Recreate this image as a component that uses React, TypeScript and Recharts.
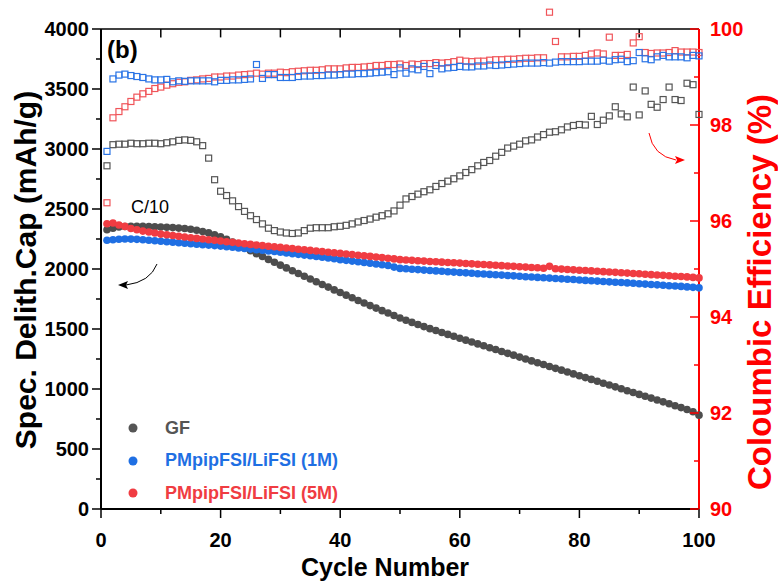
import { ComposedChart, Scatter, XAxis, YAxis, ReferenceLine, Legend } from "recharts";

const cycles = Array.from({ length: 100 }, (_, i) => i + 1);

// specific delithiation capacity (mAh/g)
const capGF = [
  2327, 2340, 2350, 2354, 2356, 2356, 2355, 2354, 2352, 2350,
  2348, 2345, 2341, 2337, 2331, 2323, 2313, 2301, 2286, 2268,
  2247, 2224, 2200, 2176, 2152, 2128, 2104, 2080, 2056, 2032,
  2009, 1986, 1963, 1940, 1917, 1894, 1871, 1849, 1826, 1804,
  1782, 1760, 1738, 1717, 1695, 1674, 1653, 1633, 1612, 1592,
  1573, 1555, 1538, 1520, 1503, 1487, 1471, 1455, 1439, 1423,
  1407, 1392, 1376, 1360, 1344, 1329, 1313, 1297, 1282, 1266,
  1250, 1234, 1219, 1204, 1188, 1172, 1157, 1142, 1126, 1110,
  1095, 1080, 1064, 1048, 1033, 1018, 1002, 986, 971, 955,
  940, 924, 908, 893, 877, 861, 845, 829, 810, 782,
];
const cap1M = [
  2239, 2244, 2248, 2250, 2249, 2247, 2244, 2240, 2236, 2231,
  2227, 2223, 2219, 2215, 2211, 2207, 2203, 2199, 2195, 2191,
  2186, 2181, 2176, 2171, 2166, 2161, 2156, 2151, 2146, 2140,
  2134, 2128, 2122, 2116, 2110, 2104, 2098, 2092, 2085, 2078,
  2072, 2066, 2060, 2054, 2048, 2042, 2036, 2029, 2016, 2005,
  2002, 1998, 1995, 1991, 1988, 1984, 1981, 1977, 1974, 1971,
  1968, 1964, 1961, 1958, 1955, 1952, 1949, 1946, 1943, 1939,
  1936, 1933, 1930, 1927, 1924, 1921, 1918, 1915, 1912, 1908,
  1905, 1902, 1899, 1896, 1893, 1890, 1887, 1884, 1881, 1877,
  1874, 1871, 1868, 1865, 1861, 1858, 1855, 1851, 1847, 1843,
];
const cap5M = [
  2377, 2383, 2367, 2355, 2338, 2327, 2316, 2308, 2300, 2291,
  2285, 2279, 2273, 2267, 2261, 2255, 2250, 2244, 2239, 2233,
  2227, 2222, 2216, 2211, 2205, 2200, 2195, 2190, 2185, 2180,
  2175, 2170, 2165, 2160, 2155, 2150, 2145, 2140, 2135, 2130,
  2125, 2120, 2115, 2110, 2105, 2100, 2095, 2090, 2084, 2078,
  2075, 2072, 2069, 2066, 2063, 2060, 2057, 2054, 2052, 2049,
  2046, 2043, 2040, 2037, 2034, 2031, 2028, 2025, 2022, 2019,
  2016, 2013, 2010, 2006, 2022, 2002, 1999, 1996, 1993, 1990,
  1987, 1984, 1981, 1978, 1975, 1972, 1969, 1966, 1963, 1960,
  1956, 1953, 1950, 1947, 1944, 1940, 1937, 1934, 1930, 1926,
];

// coulombic efficiency (%)
const ceGF = [
  97.15, 97.59, 97.6, 97.6, 97.62, 97.61, 97.61, 97.62, 97.62, 97.61,
  97.63, 97.65, 97.68, 97.69, 97.68, 97.65, 97.57, 97.31, 96.86, 96.62,
  96.53, 96.42, 96.3, 96.2, 96.11, 96.03, 95.94, 95.85, 95.8, 95.77,
  95.75, 95.74, 95.75, 95.8, 95.85, 95.86, 95.86, 95.86, 95.88, 95.89,
  95.91, 95.94, 95.98, 96.01, 96.04, 96.08, 96.11, 96.15, 96.21, 96.33,
  96.46, 96.51, 96.56, 96.61, 96.65, 96.72, 96.78, 96.83, 96.88, 96.94,
  97.01, 97.07, 97.15, 97.22, 97.26, 97.35, 97.43, 97.52, 97.56, 97.6,
  97.67, 97.69, 97.75, 97.8, 97.85, 97.86, 97.9, 97.96, 97.99, 98.01,
  98.0, 98.18, 98.01, 98.1, 98.19, 98.38, 98.23, 98.17, 98.79, 98.21,
  98.71, 98.43, 98.37, 98.53, 98.79, 98.53, 98.51, 98.87, 98.84, 98.22,
];
const ce1M = [
  97.45, 98.96, 99.04, 99.06, 99.03, 99.01, 98.99, 98.96, 98.94, 98.94,
  98.95, 98.9, 98.92, 98.91, 98.92, 98.92, 98.92, 98.92, 98.9, 98.93,
  98.93, 98.94, 98.94, 98.95, 98.96, 99.26, 98.97, 99.05, 99.05, 98.99,
  98.99, 98.99, 99.01, 99.02, 99.02, 99.03, 99.03, 99.04, 99.04, 99.05,
  99.06, 99.06, 99.07, 99.07, 99.08, 99.09, 99.1, 99.11, 99.05, 99.19,
  99.08, 99.17, 99.15, 99.22, 99.07, 99.24, 99.17, 99.19, 99.2, 99.22,
  99.21, 99.21, 99.23, 99.23, 99.25, 99.24, 99.25, 99.26, 99.27, 99.28,
  99.29, 99.29, 99.29, 99.3, 99.29, 99.31, 99.32, 99.32, 99.32, 99.32,
  99.33, 99.33, 99.33, 99.35, 99.33, 99.36, 99.37, 99.32, 99.34, 99.51,
  99.38, 99.36, 99.42, 99.45, 99.42, 99.42, 99.42, 99.4, 99.45, 99.44,
];
const ce5M = [
  96.38, 98.15, 98.28, 98.38, 98.49, 98.58, 98.65, 98.7, 98.76, 98.79,
  98.83, 98.86, 98.89, 98.9, 98.93, 98.94, 98.96, 98.97, 99.0, 99.0,
  99.02, 99.02, 99.04, 99.05, 99.06, 99.08, 99.06, 99.08, 99.08, 99.1,
  99.09, 99.11, 99.12, 99.13, 99.14, 99.14, 99.15, 99.17, 99.17, 99.17,
  99.19, 99.2, 99.2, 99.21, 99.22, 99.24, 99.24, 99.26, 99.26, 99.27,
  99.24, 99.27, 99.26, 99.28, 99.28, 99.3, 99.29, 99.3, 99.32, 99.35,
  99.33, 99.32, 99.33, 99.33, 99.35, 99.36, 99.36, 99.37, 99.37, 99.38,
  99.39, 99.39, 99.4, 99.4, 100.35, 99.74, 99.42, 99.42, 99.43, 99.43,
  99.45, 99.48, 99.5, 99.48, 99.83, 99.45, 99.45, 99.47, 99.71, 99.84,
  99.51, 99.49, 99.5, 99.5, 99.51, 99.55, 99.52, 99.52, 99.52, 99.51,
];

const xTicks = [0, 10, 20, 30, 40, 50, 60, 70, 80, 90, 100];
const capTicks = [0, 250, 500, 750, 1000, 1250, 1500, 1750, 2000, 2250, 2500, 2750, 3000, 3250, 3500, 3750, 4000];
const ceTicks = [90, 91, 92, 93, 94, 95, 96, 97, 98, 99, 100];

const FONT = "'Liberation Sans', Arial, sans-serif";
const GRAY = "#4d4d4d";
const BLUE = "#1f6fe3";
const RED = "#f03c42";

const toPts = (vals: number[], key: string) => vals.map((v, i) => ({ cycle: cycles[i], [key]: v }));

const Dot = (color: string) => (p: any) => <circle cx={p.cx} cy={p.cy} r={3.8} fill={color} />;
const Square = (color: string) => (p: any) => (
  <rect x={p.cx - 3} y={p.cy - 3} width={6} height={6} fill="none" stroke={color} strokeWidth={1.2} />
);

const XTick = ({ x, y, payload }: any) => {
  const major = payload.value % 20 === 0;
  return (
    <g>
      <line x1={x} x2={x} y1={y} y2={y + (major ? 9 : 5)} stroke="#000" strokeWidth={1.5} />
      {major && (
        <text x={x} y={y + 38} textAnchor="middle" fontSize={20} fontWeight={700} fontFamily={FONT} fill="#000">
          {payload.value}
        </text>
      )}
    </g>
  );
};

const LeftTick = ({ x, y, payload }: any) => {
  const major = payload.value % 500 === 0;
  return (
    <g>
      <line x1={x - (major ? 9 : 5)} x2={x} y1={y} y2={y} stroke="#000" strokeWidth={1.5} />
      {major && (
        <text x={x - 12} y={y + 7} textAnchor="end" fontSize={20} fontWeight={700} fontFamily={FONT} fill="#000">
          {payload.value}
        </text>
      )}
    </g>
  );
};

const RightTick = ({ x, y, payload }: any) => {
  const major = payload.value % 2 === 0;
  return (
    <g>
      <line x1={x - (major ? 9 : 5)} x2={x} y1={y} y2={y} stroke="#ff0000" strokeWidth={1.5} />
      {major && (
        <text x={x + 11} y={y + 7} textAnchor="start" fontSize={20} fontWeight={700} fontFamily={FONT} fill="#ff0000">
          {payload.value}
        </text>
      )}
    </g>
  );
};

const legendColors: Record<string, string> = { GF: "#555555", "PMpipFSI/LiFSI (1M)": BLUE, "PMpipFSI/LiFSI (5M)": RED };

const renderLegend = (props: any) => (
  <div style={{ fontFamily: FONT, fontWeight: 700, fontSize: 18 }}>
    {(props.payload || [])
      .filter((e: any) => e.type !== "none" && legendColors[e.value])
      .map((e: any) => (
        <div key={e.value} style={{ display: "flex", alignItems: "center", height: 32.5 }}>
          <svg width={26} height={12}>
            <circle cx={13} cy={6} r={4.5} fill={legendColors[e.value]} />
          </svg>
          <span style={{ color: legendColors[e.value], marginLeft: 19 }}>{e.value}</span>
        </div>
      ))}
  </div>
);

export default function App() {
  return (
    <div style={{ position: "absolute", left: 0, top: 0, width: 778, height: 582, background: "#fff" }}>
      <ComposedChart width={778} height={582} margin={{ top: 5, right: 0, bottom: 0, left: 0 }}>
        <XAxis
          type="number"
          dataKey="cycle"
          domain={[0, 100]}
          ticks={xTicks}
          interval={0}
          height={73}
          tickSize={0}
          tickMargin={0}
          tickLine={false}
          tick={<XTick />}
          axisLine={{ stroke: "#000", strokeWidth: 2 }}
        />
        <YAxis
          yAxisId="cap"
          type="number"
          domain={[0, 4200]}
          ticks={capTicks}
          interval={0}
          width={101}
          tickSize={0}
          tickMargin={0}
          tickLine={false}
          axisLine={false}
          tick={<LeftTick />}
        />
        <YAxis
          yAxisId="ce"
          orientation="right"
          type="number"
          domain={[90, 100.5]}
          ticks={ceTicks}
          interval={0}
          width={79}
          tickSize={0}
          tickMargin={0}
          tickLine={false}
          axisLine={false}
          tick={<RightTick />}
        />
        <ReferenceLine yAxisId="cap" segment={[{ x: 0, y: 0 }, { x: 0, y: 4000 }]} stroke="#000" strokeWidth={2} />
        <ReferenceLine yAxisId="cap" segment={[{ x: 0, y: 4000 }, { x: 100, y: 4000 }]} stroke="#000" strokeWidth={1.5} />
        {xTicks.slice(1, -1).map((t) => (
          <ReferenceLine
            key={t}
            yAxisId="cap"
            segment={[{ x: t, y: 4000 }, { x: t, y: 3930 }]}
            stroke="#000"
            strokeWidth={1.5}
          />
        ))}
        <ReferenceLine yAxisId="ce" segment={[{ x: 100, y: 90 }, { x: 100, y: 100 }]} stroke="#ff0000" strokeWidth={2} />

        <Scatter yAxisId="ce" name="GF CE" data={toPts(ceGF, "ce")} dataKey="ce" legendType="none" shape={Square("#555555")} isAnimationActive={false} />
        <Scatter yAxisId="ce" name="5M CE" data={toPts(ce5M, "ce")} dataKey="ce" legendType="none" shape={Square("#f0555a")} isAnimationActive={false} />
        <Scatter yAxisId="ce" name="1M CE" data={toPts(ce1M, "ce")} dataKey="ce" legendType="none" shape={Square("#2a74e6")} isAnimationActive={false} />

        <Scatter yAxisId="cap" name="GF" data={toPts(capGF, "cap")} dataKey="cap" fill={GRAY} legendType="circle" shape={Dot(GRAY)} isAnimationActive={false} />
        <Scatter yAxisId="cap" name="PMpipFSI/LiFSI (1M)" data={toPts(cap1M, "cap")} dataKey="cap" fill={BLUE} legendType="circle" shape={Dot(BLUE)} isAnimationActive={false} />
        <Scatter yAxisId="cap" name="PMpipFSI/LiFSI (5M)" data={toPts(cap5M, "cap")} dataKey="cap" fill={RED} legendType="circle" shape={Dot(RED)} isAnimationActive={false} />

        <Legend
          layout="vertical"
          align="center"
          verticalAlign="middle"
          content={renderLegend}
          wrapperStyle={{ left: 120, top: 412, width: 260, height: "auto" }}
        />
      </ComposedChart>

      <svg width={778} height={582} style={{ position: "absolute", left: 0, top: 0, pointerEvents: "none" }}>
        <text transform="translate(36,270) rotate(-90)" textAnchor="middle" fontFamily={FONT} fontWeight={700} fontSize={30} fill="#000">
          Spec. Delith.Cap (mAh/g)
        </text>
        <text transform="translate(771,292) rotate(-90)" textAnchor="middle" fontFamily={FONT} fontWeight={700} fontSize={33} fill="#ff0000">
          Coloumbic Efficiency (%)
        </text>
        <text x={385} y={576} textAnchor="middle" fontFamily={FONT} fontWeight={700} fontSize={25} fill="#000">
          Cycle Number
        </text>
        <text x={107} y={58} fontFamily={FONT} fontWeight={700} fontSize={24} fill="#000">
          (b)
        </text>
        <text x={131} y={213} fontFamily={FONT} fontSize={18} fill="#000">
          C/10
        </text>
        <path d="M157,264 Q150,282 126,285" fill="none" stroke="#000" strokeWidth={1} />
        <path d="M118,285 L128,281 L126,285 L128,289 Z" fill="#000" />
        <path d="M649,133 Q653,156 676,160" fill="none" stroke="#ff0000" strokeWidth={1} />
        <path d="M685,160 L675,156 L677,160 L675,164 Z" fill="#ff0000" />
      </svg>
    </div>
  );
}
